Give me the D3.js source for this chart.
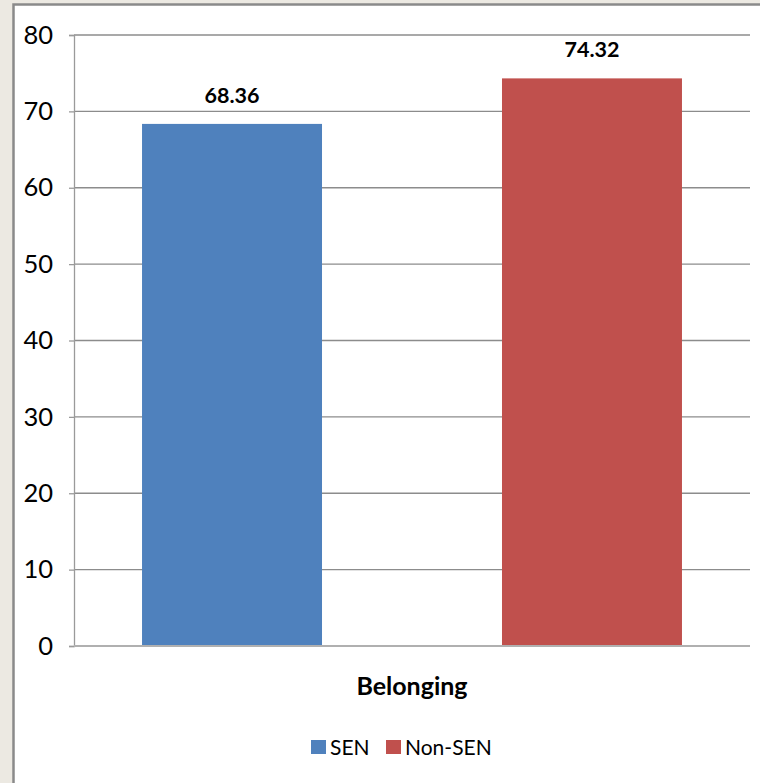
<!DOCTYPE html>
<html>
<head>
<meta charset="utf-8">
<script src="https://cdn.jsdelivr.net/npm/d3@7"></script>
<style>
  body { margin: 0; background: #ece9e2; }
  svg { display: block; }
  text { font-family: Lato, "Open Sans", sans-serif; fill: #000; }
</style>
</head>
<body>
<svg id="chart" width="760" height="783"></svg>
<script>
const categories = ['Belonging'];
const seriesNames = ['SEN', 'Non-SEN'];
const seriesValues = [68.36, 74.32];
const seriesColors = ['#4f81bd', '#c0504d'];
const yTicks = [0, 10, 20, 30, 40, 50, 60, 70, 80];

const svg = d3.select('#chart');
const plotLeft = 74, plotRight = 750, plotTop = 35, plotBottom = 646;

// white panel with grey frame
svg.append('rect')
  .attr('x', 13.5).attr('y', 4.5)
  .attr('width', 800).attr('height', 800)
  .attr('fill', '#fff')
  .attr('stroke', '#8a8a8a')
  .attr('stroke-width', 2.5);

const y = d3.scaleLinear().domain([0, 80]).range([plotBottom, plotTop]);
const x0 = d3.scaleBand().domain(categories).range([plotLeft, plotRight]);
const x1 = d3.scaleBand().domain(seriesNames)
  .range([0, x0.bandwidth()])
  .paddingInner(0.5)
  .paddingOuter(0.189);

// gridlines
svg.append('g')
  .selectAll('line')
  .data(yTicks.filter(d => d > 0))
  .enter()
  .append('line')
  .attr('x1', plotLeft).attr('x2', plotRight)
  .attr('y1', d => y(d)).attr('y2', d => y(d))
  .attr('stroke', '#8c8c8c')
  .attr('stroke-width', 1.3);

// left axis
const yAxis = svg.append('g')
  .attr('transform', `translate(${plotLeft},0)`)
  .call(d3.axisLeft(y).tickValues(yTicks).tickSize(5).tickPadding(16));
yAxis.select('.domain').attr('stroke', '#9a9a9a').attr('stroke-width', 1.3);
yAxis.selectAll('.tick line').attr('stroke', '#9a9a9a').attr('stroke-width', 1.3);
yAxis.selectAll('.tick text')
  .attr('font-size', 25.5)
  .attr('font-family', 'Lato, "Open Sans", sans-serif')
  .attr('fill', '#111');

// bars
const groups = svg.append('g')
  .selectAll('g')
  .data(categories)
  .enter()
  .append('g')
  .attr('transform', d => `translate(${x0(d)},0)`);

groups.selectAll('rect')
  .data(() => seriesNames.map((s, i) => ({ s, v: seriesValues[i], c: seriesColors[i] })))
  .enter()
  .append('rect')
  .attr('x', d => x1(d.s))
  .attr('y', d => y(d.v))
  .attr('width', x1.bandwidth())
  .attr('height', d => y(0) - y(d.v))
  .attr('fill', d => d.c);

groups.selectAll('text.val')
  .data(() => seriesNames.map((s, i) => ({ s, v: seriesValues[i] })))
  .enter()
  .append('text')
  .attr('class', 'val')
  .attr('x', d => x1(d.s) + x1.bandwidth() / 2)
  .attr('y', d => y(d.v) - 21)
  .attr('text-anchor', 'middle')
  .attr('font-size', 21.5)
  .attr('font-weight', 'bold')
  .text(d => d.v.toFixed(2));

// bottom axis line
svg.append('line')
  .attr('x1', plotLeft).attr('x2', plotRight)
  .attr('y1', plotBottom).attr('y2', plotBottom)
  .attr('stroke', '#b0b0b0')
  .attr('stroke-width', 2);

// category label
svg.selectAll('text.cat')
  .data(categories)
  .enter()
  .append('text')
  .attr('class', 'cat')
  .attr('x', d => x0(d) + x0.bandwidth() / 2)
  .attr('y', 695)
  .attr('text-anchor', 'middle')
  .attr('font-size', 25)
  .attr('font-weight', 'bold')
  .text(d => d);

// legend
const legendX = [311, 386];
const legend = svg.append('g')
  .selectAll('g')
  .data(seriesNames)
  .enter()
  .append('g')
  .attr('transform', (d, i) => `translate(${legendX[i]},740)`);
legend.append('rect')
  .attr('width', 15).attr('height', 14)
  .attr('fill', (d, i) => seriesColors[i]);
legend.append('text')
  .attr('x', 19).attr('y', 14.5)
  .attr('font-size', 21)
  .text(d => d);
</script>
</body>
</html>
